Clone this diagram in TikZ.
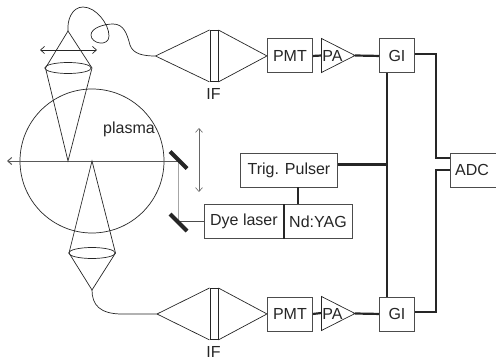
\documentclass[tikz,border=0pt]{standalone}
\usepackage{fontspec}
\setmainfont{Liberation Sans}
\usetikzlibrary{arrows.meta}
\colorlet{ink}{black!85}
\tikzset{
  x=1pt,y=-1pt,
  every node/.style={font=\fontsize{16}{18}\selectfont,text=ink,inner sep=0pt},
  thin line/.style={draw=ink,line width=0.7pt},
  wire/.style={draw=ink,line width=2.2pt},
  boxed/.style={draw=black!70,line width=0.9pt,fill=white,minimum height=34pt,anchor=north west},
  mirror/.style={draw=ink,line width=4pt},
  beam/.style={draw=black!35,line width=1pt},
  motion/.style={draw=ink,line width=0.7pt,{Straight Barb[length=4pt,width=7pt]}-{Straight Barb[length=4pt,width=7pt]}}
}
\begin{document}
\begin{tikzpicture}
\useasboundingbox (0,0) rectangle (496,361);
% plasma
\draw[thin line] (92,161) circle (72);
\node at (129,129) {plasma};
% coordinates
\coordinate (t0) at (68,161); \coordinate (t1) at (68,31);
\coordinate (tl) at (45.5,68); \coordinate (tr) at (92,68);
\coordinate (b0) at (92,161); \coordinate (b1) at (92,290);
\coordinate (bl) at (69,253); \coordinate (br) at (115.5,253);
\coordinate (a1) at (155.5,56); \coordinate (a2) at (157,314);
\coordinate (m1) at (178,161); \coordinate (m2) at (178,221);
\coordinate (w0) at (7,161);
% beams
\draw[beam] (m1) -- (m2);
\draw[draw=black!65,line width=1pt,-{Straight Barb[length=4pt,width=7pt]}] (m1) -- (w0);
\draw[beam,draw=black!70] (m2) -- (204,221);
\draw[mirror] (170,151.5) -- (187,168.5);
\draw[mirror] (170,214) -- (187,231);
% top cone
\draw[thin line] (t0) -- (tl) -- (t1) -- (tr) -- cycle;
\draw[thin line] (68,68) ellipse (23.25 and 5.5);
\draw[motion] (40,50) -- (97,50);
\draw[motion,draw=black!60,line width=0.6pt] (199,128) -- (199,192);
% top fibre
\draw[thin line] (t1) .. controls (67,20) and (72,7) .. (83,7)
  .. controls (96,7) and (109,24) .. (109,36)
  .. controls (109,47) and (91,44) .. (91,35)
  .. controls (91,28) and (104,24) .. (113,24)
  .. controls (124,24) and (127,34) .. (130,45)
  .. controls (133,54) and (143,56) .. (a1);
% bottom cone
\draw[thin line] (b0) -- (bl) -- (b1) -- (br) -- cycle;
\draw[thin line] (92,253) ellipse (23.25 and 5.5);
\draw[thin line] (b1) .. controls (92,305) and (100,314) .. (122,314) -- (a2);
% top IF
\node[boxed,draw=ink,minimum width=8pt,minimum height=51pt] (if1) at (209.5,30) {};
\node[boxed,draw=black!70,minimum width=45pt] (pmt1) at (267,38.5) {PMT};
\draw[thin line] (a1) -- (if1.north west) (a1) -- (if1.south west);
\draw[thin line] (if1.north east) -- (pmt1.west) -- (if1.south east);
\node at (213.5,94) {IF};
% bottom IF
\node[boxed,draw=ink,minimum width=8pt,minimum height=51pt] (if2) at (209.5,288) {};
\node[boxed,draw=black!70,minimum width=45pt] (pmt2) at (267,296.5) {PMT};
\draw[thin line] (a2) -- (if2.north west) (a2) -- (if2.south west);
\draw[thin line] (if2.north east) -- (pmt2.west) -- (if2.south east);
\node at (213.5,352) {IF};
% GI
\node[boxed,minimum width=35pt] (gi1) at (379,38.5) {GI};
\node[boxed,minimum width=35pt] (gi2) at (379,296.5) {GI};
% PA
\coordinate (pa1t) at (321.5,38.5); \coordinate (pa1b) at (321.5,72.5); \coordinate (pa1) at (355,55.5);
\coordinate (pa2t) at (321.5,296.5); \coordinate (pa2b) at (321.5,330.5); \coordinate (pa2) at (355,313.5);
\draw[wire] (pmt1.east) -- (321.5,55.5);
\draw[wire] (pmt2.east) -- (321.5,313);
\draw[wire] (pa1) -- (gi1.west);
\draw[wire] (pa2) -- (gi2.west);
\draw[thin line] (pa1t) -- (pa1) -- (pa1b) -- cycle;
\draw[thin line] (pa2t) -- (pa2) -- (pa2b) -- cycle;
\node at (332.5,55.5) {PA};
\node at (332.5,313.5) {PA};
% lower boxes
\node[boxed,minimum width=97pt] (trig) at (240,152.5) {Trig. Pulser};
\node[boxed,minimum width=79pt] (dye) at (204,204) {Dye laser};
\node[boxed,minimum width=69pt] (yag) at (283,204) {Nd:YAG};
\node[boxed,minimum width=60pt,anchor=north west] (adc) at (450,152.5) {};
\node at (472,169.5) {ADC};
\draw[wire,line width=1.4pt] (dye.north east) -- (dye.south east);
% wires
\coordinate (tap) at (387,164.5);
\coordinate (ya) at (298,204);
\draw[wire] (trig.south -| ya) -- (ya);
\draw[wire] (trig.east |- tap) -- (tap);
\draw[wire] (gi1.south -| tap) -- (gi2.north -| tap);
\coordinate (adcA) at (450,158); \coordinate (adcB) at (450,170);
\draw[wire] (gi1.east |- 0,54) -| (436,158) -- (adcA);
\draw[wire] (gi2.east |- 0,312) -| (436,170) -- (adcB);
\end{tikzpicture}
\end{document}
